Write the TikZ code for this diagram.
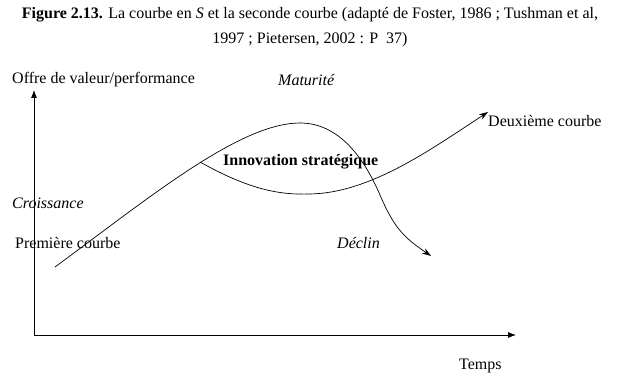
\documentclass[tikz,border=0pt]{standalone}
\usepackage{fontspec}
\setmainfont{Liberation Serif}
\usepackage{tikz}
\usetikzlibrary{positioning}
\usetikzlibrary{arrows.meta}

\tikzset{
  lbl/.style={inner sep=0pt, font=\fontsize{16}{18}\selectfont},
  axe/.style={line width=0.8pt, -{Latex[length=8pt,width=6pt]}},
  courbe/.style={line width=0.7pt},
}

\begin{document}
\begin{tikzpicture}[x=1pt,y=-1pt]
      \useasboundingbox (0,0) rectangle (620,385);
      % titre
      \node[lbl, align=center, font=\fontsize{16}{25}\selectfont] (titre) at (310,27.5)
        {\textbf{Figure 2.13.} La courbe en \textit{S} et la seconde courbe (adapt\'e de Foster, 1986 ; Tushman et al,\\
         1997 ; Pietersen, 2002 : P\ \ 37)};
      % axes
      \coordinate (O) at (34,335);
      \coordinate (ytop) at (34,90);
      \coordinate (xend) at (516,335);
      \draw[axe] (O) -- (ytop);
      \draw[axe] (O) -- (xend);
      \node[lbl, anchor=west] (offre) at (12,80) {Offre de valeur/performance};
      \node[lbl, anchor=west] (temps) at (459,366) {Temps};
      % points des courbes
      \coordinate (debut) at (55,267);
      \coordinate (pic) at (300,123);
      \coordinate (chute) at (380,195);
      \coordinate (fin1) at (431,256);
      \coordinate (creux) at (310,194);
      \coordinate (fin2) at (488,112);
      % premiere courbe
      \draw[courbe] (debut) .. controls (150,197) and (240,123) .. (pic)
        .. controls (340,123) and (365,160) .. (chute);
      \draw[courbe, -{Stealth[length=9pt,width=6pt]}] (chute) .. controls (395,230) and (405,238) .. (fin1);
      % deuxieme courbe
      \coordinate (branche) at (200,162);
      \draw[courbe] (branche) .. controls (250,190) and (280,195) .. (creux);
      \draw[courbe, -{Stealth[length=9pt,width=6pt]}] (creux) .. controls (370,193) and (430,150) .. (fin2);
      % etiquettes
      \node[lbl, anchor=west] (maturite) at (278,80) {\textit{Maturit\'e}};
      \node[lbl, anchor=west] (deux) at (488,121) {Deuxi\`eme courbe};
      \node[lbl, anchor=west] (innov) at (223,162) {\textbf{Innovation strat\'egique}};
      \node[lbl, anchor=west] (crois) at (12,203) {\textit{Croissance}};
      \node[lbl, anchor=west] (prem) at (15,243) {Premi\`ere courbe};
      \node[lbl, anchor=west] (declin) at (337,243) {\textit{D\'eclin}};
    \end{tikzpicture}
\end{document}
